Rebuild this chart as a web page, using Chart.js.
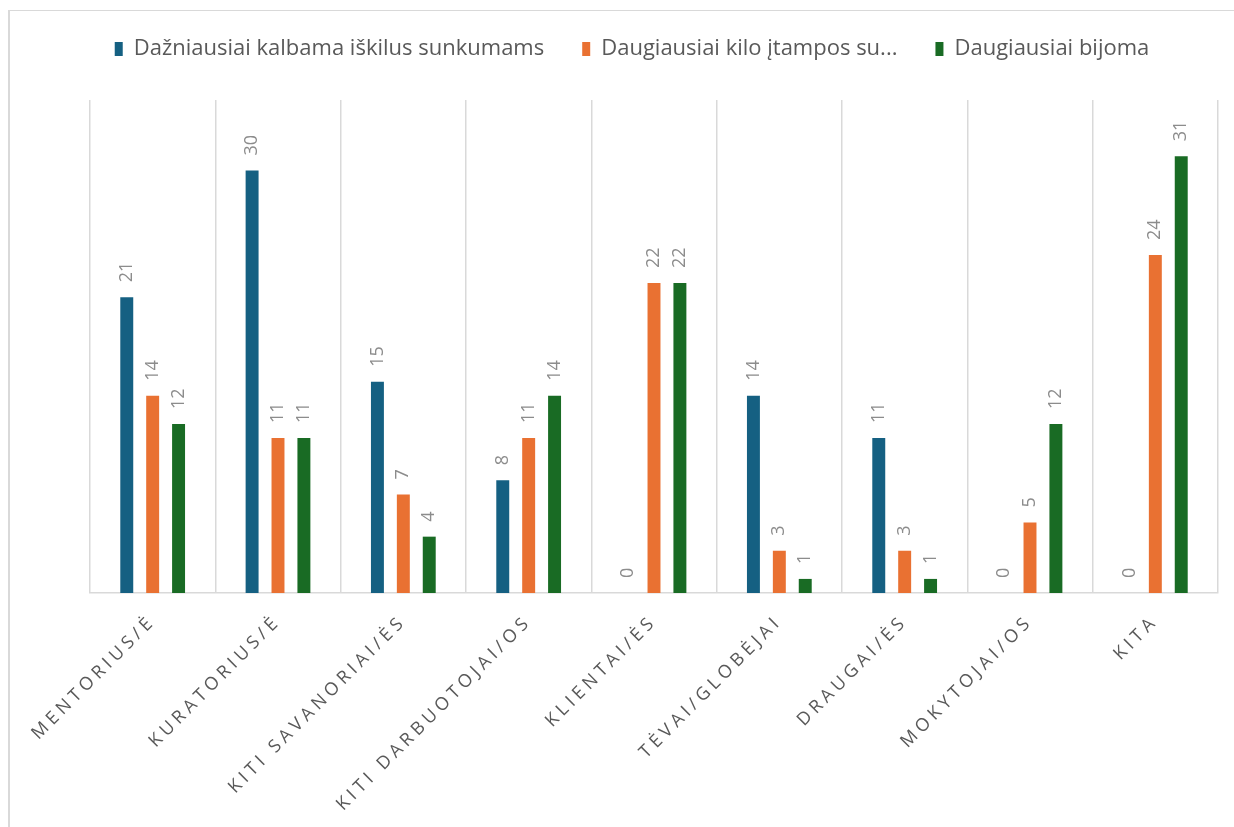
<!DOCTYPE html>
<html>
<head>
<meta charset="utf-8">
<script src="https://cdn.jsdelivr.net/npm/chart.js@4.4.1/dist/chart.umd.min.js"></script>
<style>
  html, body { margin: 0; padding: 0; background: #ffffff; overflow: hidden; }
  #frame { position: absolute; left: 8px; top: 10px; width: 1400px; height: 1000px;
           border-left: 2px solid #d9d9d9; border-top: 1px solid #d9d9d9; }
  #wrap { position: absolute; left: 0; top: 0; width: 1234px; height: 827px; }
</style>
</head>
<body>
<div id="frame"></div>
<div id="wrap"><canvas id="c" width="1234" height="827"></canvas></div>
<script>
const categories = ['MENTORIUS/Ė', 'KURATORIUS/Ė', 'KITI SAVANORIAI/ĖS', 'KITI DARBUOTOJAI/OS', 'KLIENTAI/ĖS', 'TĖVAI/GLOBĖJAI', 'DRAUGAI/ĖS', 'MOKYTOJAI/OS', 'KITA'];
const seriesNames = ['Dažniausiai kalbama iškilus sunkumams', 'Daugiausiai kilo įtampos su...', 'Daugiausiai bijoma'];
const kalbama = [21, 30, 15, 8, 0, 14, 11, 0, 0];
const itampos = [14, 11, 7, 11, 22, 3, 3, 5, 24];
const bijoma = [12, 11, 4, 14, 22, 1, 1, 12, 31];
const colors = ['#156082', '#E97132', '#196B24'];

const valueLabels = {
  id: 'valueLabels',
  afterDatasetsDraw(chart) {
    const ctx = chart.ctx;
    ctx.save();
    ctx.font = '18px "Open Sans", sans-serif';
    ctx.fillStyle = '#8c8c8c';
    ctx.textAlign = 'left';
    ctx.textBaseline = 'middle';
    chart.data.datasets.forEach((ds, i) => {
      const meta = chart.getDatasetMeta(i);
      meta.data.forEach((bar, j) => {
        ctx.save();
        ctx.translate(bar.x, bar.y - 15);
        ctx.rotate(-Math.PI / 2);
        ctx.fillText(String(ds.data[j]), 0, 0);
        ctx.restore();
      });
    });
    ctx.restore();
  }
};

const layoutTweaks = {
  id: 'layoutTweaks',
  beforeLayout(chart) {
    const lg = chart.legend;
    if (lg && !lg._patched) {
      const fit = lg.fit;
      lg.fit = function () { fit.call(this); this.height = 100; };
      const draw = lg.draw;
      lg.draw = function () {
        const ctx = this.ctx;
        ctx.save();
        ctx.translate(-22, 0);
        draw.call(this);
        ctx.restore();
      };
      lg._patched = true;
    }
  },
  afterLayout(chart) {
    const s = chart.scales.x;
    if (s && !s._spacedPatched) {
      const orig = s.drawLabels;
      s.drawLabels = function (area) {
        this.ctx.save();
        this.ctx.letterSpacing = '4.3px';
        orig.call(this, area);
        this.ctx.restore();
      };
      s._spacedPatched = true;
    }
  }
};

new Chart(document.getElementById('c'), {
  type: 'bar',
  data: {
    labels: categories,
    datasets: [
      { label: seriesNames[0], data: kalbama, backgroundColor: colors[0] },
      { label: seriesNames[1], data: itampos, backgroundColor: colors[1] },
      { label: seriesNames[2], data: bijoma, backgroundColor: colors[2] }
    ]
  },
  options: {
    responsive: false,
    animation: false,
    events: [],
    datasets: { bar: { categoryPercentage: 0.62, barPercentage: 0.5 } },
    layout: { padding: { left: 90, right: 16, top: 0, bottom: 0 } },
    plugins: {
      legend: {
        position: 'top',
        labels: {
          font: { family: '"Open Sans", sans-serif', size: 22 },
          color: '#595959',
          boxWidth: 8,
          boxHeight: 14,
          padding: 38
        }
      },
      tooltip: { enabled: false }
    },
    scales: {
      x: {
        grid: { display: true, color: '#d9d9d9', lineWidth: 1.5, offset: true, drawTicks: false },
        border: { display: true, color: '#d9d9d9', width: 1.5 },
        ticks: {
          minRotation: 45, maxRotation: 45, autoSkip: false,
          font: { family: '"Open Sans", sans-serif', size: 18 },
          color: '#595959',
          padding: 18
        },
        afterFit(scale) { scale.height = 234; }
      },
      y: {
        display: false,
        min: 0, max: 35
      }
    }
  },
  plugins: [valueLabels, layoutTweaks]
});
</script>
</body>
</html>
